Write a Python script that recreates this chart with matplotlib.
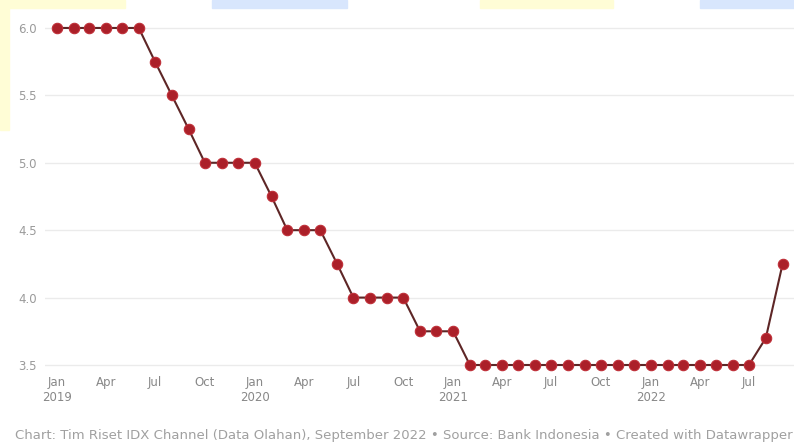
import numpy as np
import pandas as pd
import matplotlib
matplotlib.use("Agg")
import matplotlib.pyplot as plt
import matplotlib.dates as mdates
from matplotlib.patches import Rectangle

# BI 7-day reverse repo rate, monthly (%)
months = pd.date_range("2019-01-01", "2022-09-01", freq="MS")
rate = [6.0, 6.0, 6.0, 6.0, 6.0, 6.0, 5.75, 5.5, 5.25, 5.0, 5.0, 5.0,
        5.0, 4.75, 4.5, 4.5, 4.5, 4.25, 4.0, 4.0, 4.0, 4.0, 3.75, 3.75,
        3.75, 3.5, 3.5, 3.5, 3.5, 3.5, 3.5, 3.5, 3.5, 3.5, 3.5, 3.5,
        3.5, 3.5, 3.5, 3.5, 3.5, 3.5, 3.5, 3.7, 4.25]

yticks = [3.5, 4.0, 4.5, 5.0, 5.5, 6.0]
tick_months = pd.date_range("2019-01-01", "2022-07-01", freq="3MS")
tick_labels = [d.strftime("%b") + ("\n" + d.strftime("%Y") if d.month == 1 else "") for d in tick_months]

footer = ("Chart: Tim Riset IDX Channel (Data Olahan), September 2022 \u2022 Source: "
          "Bank Indonesia \u2022 Created with Datawrapper")

W, H = 794, 442
fig = plt.figure(figsize=(W / 100, H / 100), dpi=100)
ax = fig.add_axes([45 / W, 1 - 372 / H, 749 / W, 352 / H])

ax.plot(months, rate, color="#5e2626", lw=1.5, zorder=2,
        marker="o", ms=7.5, mfc="#ab2029", mec="#bf2f38", mew=0.8)

ax.set_xlim(pd.Timestamp("2018-12-10"), pd.Timestamp("2022-09-22"))
ax.set_ylim(3.448, 6.059)
ax.set_yticks(yticks)
ax.set_yticklabels([f"{v:.1f}" for v in yticks])
ax.set_xticks(tick_months)
ax.set_xticklabels(tick_labels)

ax.grid(axis="y", color="#ebebeb", lw=1)
ax.set_axisbelow(True)
for s in ax.spines.values():
    s.set_visible(False)
ax.tick_params(axis="y", length=0, pad=6, labelsize=8.5, labelcolor="#9a9a9a")
ax.tick_params(axis="x", length=0, pad=3, labelsize=8.5, labelcolor="#888888")
for t in ax.get_xticklabels():
    t.set_linespacing(1.15)

fig.text(15 / W, 1 - 436 / H, footer, fontsize=9.5, color="#a0a0a0", va="center")

# highlight bands across the top edge
for x0, x1, c in [(0, 125, "#fffdd6"), (212, 347, "#d8e6fd"),
                  (480, 613, "#fffdd6"), (700, 794, "#d8e6fd")]:
    fig.patches.append(Rectangle((x0 / W, 1 - 8 / H), (x1 - x0) / W, 8 / H,
                                 transform=fig.transFigure, color=c, zorder=0))
fig.patches.append(Rectangle((0, 1 - 130 / H), 9 / W, 130 / H,
                             transform=fig.transFigure, color="#fffdd6", zorder=0))

fig.savefig("out.png", dpi=100)
